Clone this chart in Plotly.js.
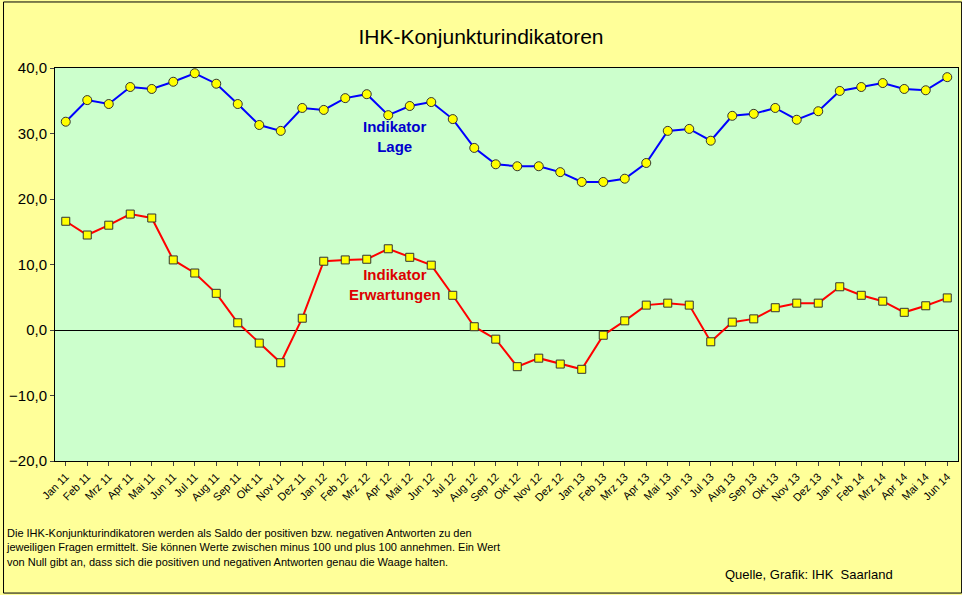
<!DOCTYPE html>
<html><head><meta charset="utf-8">
<script src="https://cdn.plot.ly/plotly-3.0.1.min.js"></script>
<style>body{margin:0;background:#FFFF99}#c{width:962px;height:595px}</style>
</head><body><div id="c"></div>
<script>
const months = ["Jan 11","Feb 11","Mrz 11","Apr 11","Mai 11","Jun 11","Jul 11","Aug 11","Sep 11","Okt 11","Nov 11","Dez 11",
"Jan 12","Feb 12","Mrz 12","Apr 12","Mai 12","Jun 12","Jul 12","Aug 12","Sep 12","Okt 12","Nov 12","Dez 12",
"Jan 13","Feb 13","Mrz 13","Apr 13","Mai 13","Jun 13","Jul 13","Aug 13","Sep 13","Okt 13","Nov 13","Dez 13",
"Jan 14","Feb 14","Mrz 14","Apr 14","Mai 14","Jun 14"];
const lage = [31.8,35.1,34.5,37.1,36.8,37.9,39.2,37.6,34.5,31.3,30.4,33.9,
33.6,35.4,36.0,32.8,34.2,34.8,32.2,27.8,25.3,25.0,25.0,24.1,
22.6,22.6,23.1,25.5,30.4,30.7,28.9,32.7,33.0,33.9,32.1,33.4,
36.5,37.1,37.7,36.8,36.6,38.6];
const erwartungen = [16.6,14.5,16.0,17.7,17.1,10.7,8.7,5.6,1.1,-2.0,-5.0,1.8,
10.5,10.7,10.8,12.4,11.1,9.9,5.3,0.5,-1.4,-5.6,-4.3,-5.2,
-6.0,-0.8,1.4,3.8,4.1,3.8,-1.8,1.2,1.7,3.4,4.1,4.1,
6.6,5.3,4.4,2.7,3.7,4.9];
const yTicks = [-20,-10,0,10,20,30,40];
const F = "Liberation Sans, Arial, sans-serif";
Plotly.newPlot("c", [
 {x: months, y: lage, type:"scatter", mode:"lines+markers", line:{color:"#0000FF",width:2},
  marker:{symbol:"circle",size:9,color:"#FFFF00",line:{color:"#333",width:1}}},
 {x: months, y: erwartungen, type:"scatter", mode:"lines+markers", line:{color:"#FF0000",width:2},
  marker:{symbol:"square",size:8,color:"#FFFF00",line:{color:"#333",width:1}}}
], {
 width:962, height:595, paper_bgcolor:"#FFFF99", plot_bgcolor:"#CCFFCC",
 margin:{l:55,r:4,t:68,b:134}, showlegend:false, separators:",.",
 title:{text:"IHK-Konjunkturindikatoren", font:{family:F,size:21,color:"#000"}, x:0.5, y:0.95},
 xaxis:{type:"category", range:[-0.5,41.5], tickangle:-45, tickfont:{family:F,size:11,color:"#000"},
  showgrid:false, showline:true, linecolor:"#000", mirror:true, ticks:"outside", ticklen:4},
 yaxis:{range:[-20,40], tickvals:yTicks, tickformat:".1f", tickfont:{family:F,size:15,color:"#000"},
  showgrid:false, zeroline:true, zerolinecolor:"#000", zerolinewidth:1, showline:true, linecolor:"#000", mirror:true, ticks:"outside", ticklen:4},
 annotations:[
  {x:15.3,y:29.5,xref:"x",yref:"y",text:"<b>Indikator<br>Lage</b>",showarrow:false,font:{family:F,size:15,color:"#0000CC"}},
  {x:15.3,y:7,xref:"x",yref:"y",text:"<b>Indikator<br>Erwartungen</b>",showarrow:false,font:{family:F,size:15,color:"#DD0000"}},
  {x:-0.056,y:-0.163,xref:"paper",yref:"paper",xanchor:"left",yanchor:"top",align:"left",showarrow:false,
   text:"Die IHK-Konjunkturindikatoren werden als Saldo der positiven bzw. negativen Antworten zu den<br>jeweiligen Fragen ermittelt. Sie können Werte zwischen minus 100 und plus 100 annehmen. Ein Wert<br>von Null gibt an, dass sich die positiven und negativen Antworten genau die Waage halten.",
   font:{family:F,size:11,color:"#000"}},
  {x:0.93,y:-0.29,xref:"paper",yref:"paper",xanchor:"right",yanchor:"middle",showarrow:false,
   text:"Quelle, Grafik: IHK  Saarland",font:{family:F,size:13,color:"#000"}}
 ],
 shapes:[{type:"rect",xref:"paper",yref:"paper",x0:-0.057,x1:1.004,y0:-0.336,y1:1.168,line:{color:"#000",width:1}}]
}, {displayModeBar:false});
</script></body></html>
